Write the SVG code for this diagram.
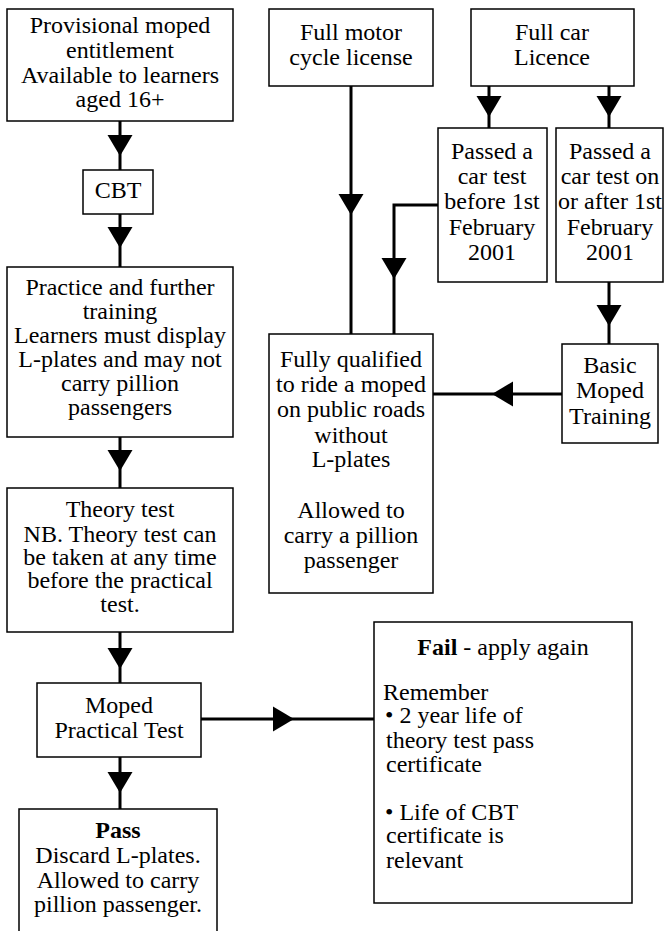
<svg xmlns="http://www.w3.org/2000/svg" width="664" height="931" viewBox="0 0 664 931">
<style>
.box{fill:#fff;stroke:#000;stroke-width:1.5}
text{font-family:'Liberation Serif','DejaVu Serif',serif;font-size:24px;fill:#000;text-anchor:middle}
text.l{text-anchor:start}
.c{fill:none;stroke:#000;stroke-width:3}
.h{fill:#000}
</style>
<defs>
<path id="ad" d="M-12.5,0 L12.5,0 L0,21 Z"/>
</defs>
<rect width="664" height="931" fill="#fff"/>
<g id="connectors">
<path class="c" d="M120,121V170M120,214V267M120,437V488M120,632V683M120,757V809M201,719H374"/>
<path class="c" d="M351,86V334M438,205H394V334M489,86V128M609,86V128M609,282V344M562,394H433"/>
<use href="#ad" class="h" x="120" y="135"/>
<use href="#ad" class="h" x="120" y="227"/>
<use href="#ad" class="h" x="120" y="450"/>
<use href="#ad" class="h" x="120" y="648"/>
<use href="#ad" class="h" x="120" y="772"/>
<use href="#ad" class="h" transform="translate(273,719) rotate(-90)"/>
<use href="#ad" class="h" x="351" y="194"/>
<use href="#ad" class="h" x="394" y="258"/>
<use href="#ad" class="h" x="489" y="96"/>
<use href="#ad" class="h" x="609" y="96"/>
<use href="#ad" class="h" x="609" y="305"/>
<use href="#ad" class="h" transform="translate(513,394) rotate(90)"/>
</g>
<g id="provisional">
<rect class="box" x="7" y="9" width="226" height="112"/>
<text font-family="Liberation Serif" x="120" y="33">Provisional moped</text>
<text font-family="Liberation Serif" x="120" y="58">entitlement</text>
<text font-family="Liberation Serif" x="120" y="83">Available to learners</text>
<text font-family="Liberation Serif" x="120" y="107">aged 16+</text>
</g>
<g id="cbt">
<rect class="box" x="83" y="170" width="70" height="44"/>
<text x="118" y="198">CBT</text>
</g>
<g id="practice">
<rect class="box" x="7" y="267" width="226" height="170"/>
<text x="120" y="295">Practice and further</text>
<text x="120" y="319">training</text>
<text x="120" y="343">Learners must display</text>
<text x="120" y="367">L-plates and may not</text>
<text x="120" y="391">carry pillion</text>
<text x="120" y="415">passengers</text>
</g>
<g id="theory">
<rect class="box" x="7" y="488" width="226" height="144"/>
<text x="120" y="517">Theory test</text>
<text x="120" y="542">NB. Theory test can</text>
<text x="120" y="565">be taken at any time</text>
<text x="120" y="588">before the practical</text>
<text x="120" y="612">test.</text>
</g>
<g id="practical">
<rect class="box" x="37" y="683" width="164" height="74"/>
<text x="119" y="713">Moped</text>
<text x="119" y="738">Practical Test</text>
</g>
<g id="pass">
<rect class="box" x="19" y="809" width="198" height="130"/>
<text x="118" y="838" font-weight="bold">Pass</text>
<text x="118" y="863">Discard L-plates.</text>
<text x="118" y="888">Allowed to carry</text>
<text x="118" y="912">pillion passenger.</text>
</g>
<g id="fail">
<rect class="box" x="374" y="622" width="258" height="281"/>
<text x="503" y="655"><tspan font-weight="bold">Fail</tspan> - apply again</text>
<text class="l" x="383" y="700">Remember</text>
<text class="l" x="385" y="723">• 2 year life of</text>
<text class="l" x="386" y="748">theory test pass</text>
<text class="l" x="386" y="772">certificate</text>
<text class="l" x="385" y="820">• Life of CBT</text>
<text class="l" x="386" y="843">certificate is</text>
<text class="l" x="386" y="868">relevant</text>
</g>
<g id="motorcycle">
<rect class="box" x="269" y="9" width="164" height="77"/>
<text x="351" y="40">Full motor</text>
<text x="351" y="65">cycle license</text>
</g>
<g id="car">
<rect class="box" x="471" y="9" width="163" height="77"/>
<text x="552" y="40">Full car</text>
<text x="552" y="65">Licence</text>
</g>
<g id="before">
<rect class="box" x="438" y="128" width="109" height="154"/>
<text x="492" y="159">Passed a</text>
<text x="492" y="184">car test</text>
<text x="492" y="209">before 1st</text>
<text x="492" y="235">February</text>
<text x="492" y="260">2001</text>
</g>
<g id="after">
<rect class="box" x="556" y="128" width="107" height="154"/>
<text x="610" y="159">Passed a</text>
<text x="610" y="184">car test on</text>
<text x="610" y="209">or after 1st</text>
<text x="610" y="235">February</text>
<text x="610" y="260">2001</text>
</g>
<g id="qualified">
<rect class="box" x="269" y="334" width="164" height="259"/>
<text x="351" y="367">Fully qualified</text>
<text x="351" y="392">to ride a moped</text>
<text x="351" y="417">on public roads</text>
<text x="351" y="443">without</text>
<text x="351" y="467">L-plates</text>
<text x="351" y="518">Allowed to</text>
<text x="351" y="543">carry a pillion</text>
<text x="351" y="568">passenger</text>
</g>
<g id="basic">
<rect class="box" x="562" y="344" width="96" height="99"/>
<text x="610" y="373">Basic</text>
<text x="610" y="398">Moped</text>
<text x="610" y="424">Training</text>
</g>
</svg>
